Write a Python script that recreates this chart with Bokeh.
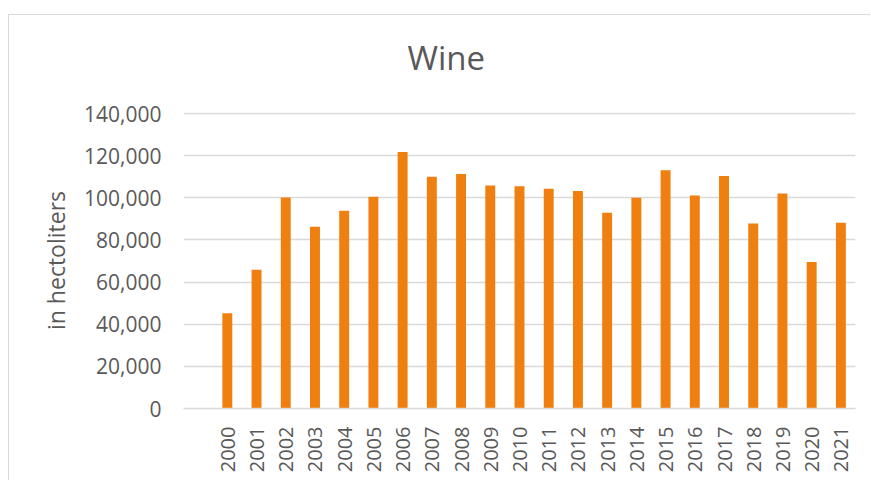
from bokeh.plotting import figure
from bokeh.models import (FactorRange, Range1d, SingleIntervalTicker, NumeralTickFormatter, Title)
from bokeh.embed import file_html
from bokeh.resources import INLINE
import math

# ---- data ----
years = ["2000", "2001", "2002", "2003", "2004", "2005", "2006", "2007", "2008", "2009", "2010",
         "2011", "2012", "2013", "2014", "2015", "2016", "2017", "2018", "2019", "2020", "2021"]
wine_hl = [45200, 65900, 100100, 86300, 93800, 100500, 121700, 110000, 111300, 105800, 105500,
           104300, 103200, 92900, 100000, 113100, 101100, 110300, 87800, 102000, 69500, 88100]
title_text = "Wine"
y_label = "in hectoliters"

TXT = "#595959"
GRID = "#d9d9d9"
BAR = "#EF7F0E"
FONT = "Open Sans"

factors = [" "] + years  # leading empty category slot as in the original

p = figure(width=862, height=466, x_range=FactorRange(factors=factors, range_padding=0),
           y_range=Range1d(0, 140475), output_backend="svg", toolbar_location=None,
           min_border_left=174, min_border_right=16, min_border_top=97, min_border_bottom=73)
p.styles = {"margin-left": "8px", "margin-top": "14px",
            "border-top": "1px solid #d9d9d9", "border-left": "1px solid #d9d9d9"}
p.outline_line_color = None
p.background_fill_color = "white"
p.border_fill_color = "white"
p.title.text = ""

p.vbar(x=years, top=wine_hl, width=0.34, fill_color=BAR, line_color=None)

# grid
p.xgrid.grid_line_color = None
p.ygrid.grid_line_color = GRID
p.ygrid.grid_line_width = 1.3

# y axis
p.yaxis.ticker = SingleIntervalTicker(interval=20000, num_minor_ticks=0)
p.yaxis.formatter = NumeralTickFormatter(format="0,0")
p.yaxis.axis_line_color = None
p.yaxis.major_tick_line_color = None
p.yaxis.minor_tick_line_color = None
p.yaxis.major_label_standoff = 16
p.yaxis.major_label_text_font = FONT
p.yaxis.major_label_text_font_size = "21px"
p.yaxis.major_label_text_color = TXT
p.yaxis.axis_label = y_label
p.yaxis.axis_label_text_font = FONT
p.yaxis.axis_label_text_font_size = "23px"
p.yaxis.axis_label_text_font_style = "normal"
p.yaxis.axis_label_text_color = TXT
p.yaxis.axis_label_standoff = 9

# x axis
p.xaxis.axis_line_color = GRID
p.xaxis.axis_line_width = 1.3
p.xaxis.major_tick_line_color = None
p.xaxis.minor_tick_line_color = None
p.xaxis.major_label_orientation = math.pi / 2
p.xaxis.major_label_standoff = 12
p.xaxis.major_label_text_font = FONT
p.xaxis.major_label_text_font_size = "20px"
p.xaxis.major_label_text_color = TXT

# title: a tiny spacer title between the frame and the main title
p.add_layout(Title(text=" ", text_font_size="1px", standoff=30), "above")
p.add_layout(Title(text=title_text, align="left", offset=224, text_font=FONT,
                   text_font_size="33px", text_font_style="normal", text_color=TXT,
                   vertical_align="bottom", standoff=0), "above")

open("out.html", "w").write(file_html(p, INLINE))
